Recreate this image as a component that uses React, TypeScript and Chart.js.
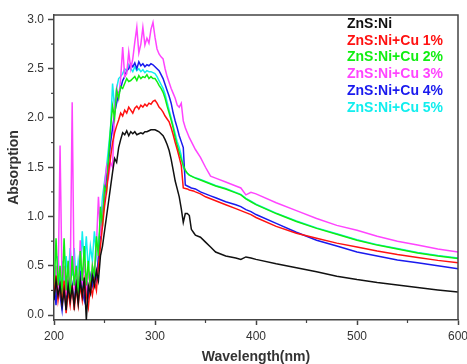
import React, { useEffect, useRef } from "react";
import { Chart, registerables } from "chart.js";

Chart.register(...registerables);

// Wavelength (nm)
const WAVELENGTH = [
  200, 202, 204, 206, 208, 210, 212, 214, 216, 218,
  220, 222, 224, 226, 228, 230, 232, 234, 236, 238,
  240, 242, 244, 246, 248, 250, 252, 254, 256, 258,
  260, 262, 264, 266, 268, 270, 272, 274, 276, 278,
  280, 282, 284, 286, 288, 290, 292, 294, 296, 298,
  300, 302, 304, 306, 308, 310, 312, 314, 316, 318,
  320, 322, 324, 326, 328, 330, 332, 334, 336, 338,
  340, 345, 350, 355, 360, 370, 380, 385, 390, 395,
  400, 420, 440, 460, 480, 500, 520, 540, 560, 580, 600,
];

const ZNS_NI = [
  0.15, 0.35, 0.2, 0.3, 0.1, 0.25, 0.05, 0.3, 0.15, 0.28,
  0.1, 0.3, 0.12, 0.35, 0.2, 0.38, -0.05, 0.3, 0.22, 0.4,
  0.3, 0.45, 0.35, 0.6, 0.7, 0.85, 1.0, 1.15, 1.3, 1.45,
  1.59, 1.55, 1.7, 1.78, 1.85, 1.83, 1.87, 1.82, 1.86, 1.84,
  1.86, 1.83, 1.84, 1.85, 1.84, 1.86, 1.86, 1.87, 1.88, 1.88,
  1.88, 1.87, 1.86, 1.84, 1.82, 1.78, 1.73, 1.67, 1.58, 1.47,
  1.36, 1.28, 1.2, 1.08, 0.94, 1.03, 1.03, 1.01, 0.87, 0.84,
  0.81, 0.79, 0.74, 0.69, 0.64, 0.6, 0.58, 0.565, 0.59, 0.58,
  0.565, 0.52, 0.48, 0.44, 0.395, 0.36, 0.33, 0.305, 0.28, 0.255, 0.233,
];

const CU_1 = [
  0.2, 0.4, 0.15, 0.3, 0.1, 0.35, 0.02, 0.25, 0.1, 0.3,
  0.05, 0.28, 0.1, 0.3, 0.15, 0.35, 0.2, 0.08, 0.3, 0.2,
  0.35, 0.25, 0.5, 0.7, 0.9, 1.1, 1.25, 1.45, 1.6, 1.75,
  1.85, 1.92, 1.98, 2.05, 2.02, 2.08, 2.05, 2.11, 2.08, 2.05,
  2.1, 2.12, 2.09, 2.13, 2.11, 2.14, 2.12, 2.15, 2.14, 2.17,
  2.18, 2.15, 2.11, 2.09, 2.06, 2.02, 1.99, 1.96, 1.9, 1.83,
  1.75, 1.68, 1.6, 1.52, 1.29, 1.285, 1.28, 1.27, 1.265, 1.26,
  1.25, 1.23, 1.2, 1.18, 1.16, 1.12, 1.08, 1.06, 1.04, 1.02,
  0.99, 0.9, 0.83, 0.78, 0.73, 0.69, 0.65, 0.615, 0.585, 0.555, 0.53,
];

const CU_2 = [
  0.2, 0.78, 0.3, 0.5, 0.2, 0.78, 0.25, 0.55, 0.15, 0.6,
  0.3, 0.5, 0.2, 0.65, 0.35, 0.7, 0.3, 0.55, 0.25, 0.5,
  0.4, 0.8, 0.6, 1.1, 0.9, 1.3, 1.25, 1.6, 1.9, 2.12,
  2.0, 2.28, 2.2, 2.32, 2.3, 2.35, 2.4, 2.37, 2.38, 2.4,
  2.42, 2.38, 2.43, 2.4, 2.42, 2.41, 2.44, 2.4, 2.42, 2.4,
  2.4, 2.37, 2.33, 2.3, 2.26, 2.2, 2.12, 2.05, 1.98, 1.9,
  1.8, 1.72, 1.65, 1.58, 1.52, 1.47, 1.44, 1.42, 1.41, 1.4,
  1.39, 1.37, 1.35, 1.33, 1.31, 1.28, 1.24, 1.22, 1.18, 1.15,
  1.12, 1.03, 0.95, 0.88, 0.82, 0.76, 0.71, 0.67, 0.63, 0.6, 0.575,
];

const CU_3 = [
  0.3, 0.5, 0.25, 1.72, 0.3, 0.5, 0.2, 0.4, 0.3, 2.16,
  0.25, 0.5, 0.2, 0.76, 0.3, 0.55, 0.2, 0.45, 0.3, 0.5,
  0.4, 0.7, 1.2, 0.8, 1.0, 1.3, 1.5, 1.4, 1.55, 1.5,
  2.1, 2.3, 2.2, 2.4, 2.72, 2.42, 2.45, 2.67, 2.5, 2.6,
  2.77, 2.92, 2.66, 2.75, 2.92, 2.74, 2.81, 2.76, 2.9, 2.97,
  2.82, 2.7, 2.65, 2.62, 2.6, 2.5, 2.42, 2.36, 2.3, 2.25,
  2.2, 2.13, 2.11, 2.15, 1.97, 1.9, 1.85, 1.8, 1.76, 1.72,
  1.68, 1.6, 1.5, 1.41, 1.39, 1.35, 1.31, 1.29, 1.22, 1.245,
  1.23, 1.14, 1.06, 0.98, 0.91, 0.86, 0.8, 0.75, 0.71, 0.67, 0.64,
];

const CU_4 = [
  0.3, 0.1, 0.45, 0.2, 0.05, 0.3, 0.12, 0.4, 0.15, 0.3,
  0.1, 0.35, 0.2, 0.45, 0.25, 0.15, 0.35, 0.2, 0.4, 0.3,
  0.45, 0.35, 0.6, 0.8, 1.0, 1.2, 1.4, 1.55, 1.75, 1.9,
  2.05, 2.15, 2.25, 2.3, 2.38, 2.42, 2.48, 2.5, 2.55, 2.52,
  2.56, 2.5, 2.57, 2.53, 2.55, 2.52, 2.54, 2.53, 2.55, 2.54,
  2.52, 2.5, 2.48, 2.44, 2.4, 2.34, 2.28, 2.22, 2.15, 2.05,
  1.97, 1.9, 1.82, 1.76, 1.7, 1.32, 1.31, 1.3, 1.29, 1.285,
  1.28, 1.25, 1.23, 1.21, 1.19, 1.15, 1.12, 1.1, 1.07, 1.05,
  1.02, 0.93, 0.84, 0.76, 0.7, 0.64, 0.6, 0.56, 0.53, 0.5, 0.47,
];

const CU_5 = [
  0.4, 0.2, 0.6, 0.3, 0.55, 0.25, 0.6, 0.35, 0.68, 0.4,
  0.68, 0.3, 0.55, 0.4, 0.85, 0.5, 0.8, 0.45, 0.7, 0.55,
  0.85, 0.6, 0.75, 0.9, 1.2, 1.35, 1.5, 1.7, 1.9, 2.35,
  2.1, 2.3, 2.4, 2.42, 2.45, 2.5, 2.48, 2.54, 2.5, 2.47,
  2.52, 2.48, 2.5, 2.47, 2.49, 2.46, 2.48, 2.47, 2.47, 2.46,
  2.45, 2.42, 2.38, 2.34, 2.3, 2.24, 2.16, 2.08, 2.0, 1.92,
  1.84, 1.76, 1.7, 1.62, 1.5, 1.46, 1.44, 1.42, 1.41, 1.4,
  1.395, 1.375, 1.355, 1.335, 1.315, 1.285, 1.245, 1.225, 1.185, 1.155,
  1.125, 1.035, 0.955, 0.885, 0.825, 0.765, 0.715, 0.675, 0.635, 0.605, 0.58,
];

const SERIES_LABELS = [
  "ZnS:Ni",
  "ZnS:Ni+Cu 1%",
  "ZnS:Ni+Cu 2%",
  "ZnS:Ni+Cu 3%",
  "ZnS:Ni+Cu 4%",
  "ZnS:Ni+Cu 5%",
];
const SERIES_VALUES = [ZNS_NI, CU_1, CU_2, CU_3, CU_4, CU_5];
const SERIES_COLORS = ["#111111", "#ff1111", "#11ee11", "#ff44ff", "#1a1aee", "#11eeee"];

const X_TICKS = [200, 300, 400, 500, 600];
const Y_TICKS = [0, 0.5, 1.0, 1.5, 2.0, 2.5, 3.0];

const FONT = '"Liberation Sans", Arial, sans-serif';
const AXIS_COLOR = "#444";
const TEXT_COLOR = "#333";

const extrasPlugin = {
  id: "extras",
  afterDraw(chart: any) {
    const { ctx, chartArea: a, scales } = chart;
    ctx.save();
    // frame top and right
    ctx.strokeStyle = AXIS_COLOR;
    ctx.lineWidth = 1.5;
    ctx.beginPath();
    ctx.moveTo(a.left, a.top);
    ctx.lineTo(a.right, a.top);
    ctx.lineTo(a.right, a.bottom);
    ctx.stroke();

    // minor ticks
    ctx.lineWidth = 1.2;
    const xs = scales.x;
    const xt = xs.ticks.map((t: any) => t.value);
    for (let i = 0; i < xt.length - 1; i++) {
      const px = xs.getPixelForValue((xt[i] + xt[i + 1]) / 2);
      ctx.beginPath();
      ctx.moveTo(px, a.bottom);
      ctx.lineTo(px, a.bottom + 3);
      ctx.stroke();
    }
    const ys = scales.y;
    const yt = ys.ticks.map((t: any) => t.value);
    for (let i = 0; i < yt.length - 1; i++) {
      const py = ys.getPixelForValue((yt[i] + yt[i + 1]) / 2);
      ctx.beginPath();
      ctx.moveTo(a.left, py);
      ctx.lineTo(a.left - 3, py);
      ctx.stroke();
    }

    // legend text inside plot
    ctx.font = `bold 14px ${FONT}`;
    ctx.textAlign = "left";
    ctx.textBaseline = "middle";
    chart.data.datasets.forEach((ds: any, i: number) => {
      ctx.fillStyle = ds.borderColor;
      ctx.fillText(ds.label, a.right - 111, a.top + 9 + i * 16.8);
    });
    ctx.restore();
  },
};

export default function App() {
  const canvasRef = useRef<HTMLCanvasElement | null>(null);

  useEffect(() => {
    document.body.style.margin = "0";
    const canvas = canvasRef.current;
    if (!canvas) return;
    const datasets = SERIES_LABELS.map((label, si) => ({
      label,
      data: WAVELENGTH.map((x, i) => ({ x, y: SERIES_VALUES[si][i] })),
      borderColor: SERIES_COLORS[si],
      backgroundColor: SERIES_COLORS[si],
      borderWidth: 1.5,
      pointRadius: 0,
      tension: 0,
      fill: false,
    }));

    const chart = new Chart(canvas, {
      type: "line",
      data: { datasets },
      options: {
        responsive: false,
        animation: false,
        devicePixelRatio: 1,
        layout: { padding: { top: 15, right: 9, left: 0, bottom: 0 } },
        plugins: { legend: { display: false }, tooltip: { enabled: false } },
        scales: {
          x: {
            type: "linear",
            min: 200,
            max: 600,
            afterBuildTicks: (s: any) => {
              s.ticks = X_TICKS.map((v) => ({ value: v }));
            },
            afterFit: (s: any) => {
              s.height = 44;
              s.paddingLeft = 0;
              s.paddingRight = 0;
            },
            grid: {
              drawOnChartArea: false,
              drawTicks: true,
              tickLength: 5,
              tickColor: AXIS_COLOR,
              tickWidth: 1.5,
            },
            border: { display: true, color: AXIS_COLOR, width: 1.5 },
            ticks: {
              autoSkip: false,
              maxRotation: 0,
              padding: 4,
              color: TEXT_COLOR,
              font: { family: FONT, size: 12 },
              callback: (v: any) => String(v),
            },
            title: {
              display: true,
              text: "Wavelength(nm)",
              color: TEXT_COLOR,
              font: { family: FONT, size: 14, weight: "bold", lineHeight: 1 },
              padding: { top: 0, bottom: 0 },
            },
          },
          y: {
            type: "linear",
            min: -0.05,
            max: 3.045,
            afterBuildTicks: (s: any) => {
              s.ticks = Y_TICKS.map((v) => ({ value: v }));
            },
            afterFit: (s: any) => {
              s.width = 54;
              s.paddingTop = 0;
              s.paddingBottom = 0;
            },
            grid: {
              drawOnChartArea: false,
              drawTicks: true,
              tickLength: 6,
              tickColor: AXIS_COLOR,
              tickWidth: 1.5,
            },
            border: { display: true, color: AXIS_COLOR, width: 1.5 },
            ticks: {
              autoSkip: false,
              padding: 4,
              color: TEXT_COLOR,
              font: { family: FONT, size: 12 },
              callback: (v: any) => Number(v).toFixed(1),
            },
            title: {
              display: true,
              text: "Absorption",
              color: TEXT_COLOR,
              font: { family: FONT, size: 14, weight: "bold", lineHeight: 1 },
              padding: { top: 7, bottom: 0 },
            },
          },
        },
      },
      plugins: [extrasPlugin],
    } as any);

    return () => {
      chart.destroy();
    };
  }, []);

  return (
    <div style={{ width: 467, height: 364 }}>
      <canvas ref={canvasRef} width={467} height={364} style={{ display: "block" }} />
    </div>
  );
}
